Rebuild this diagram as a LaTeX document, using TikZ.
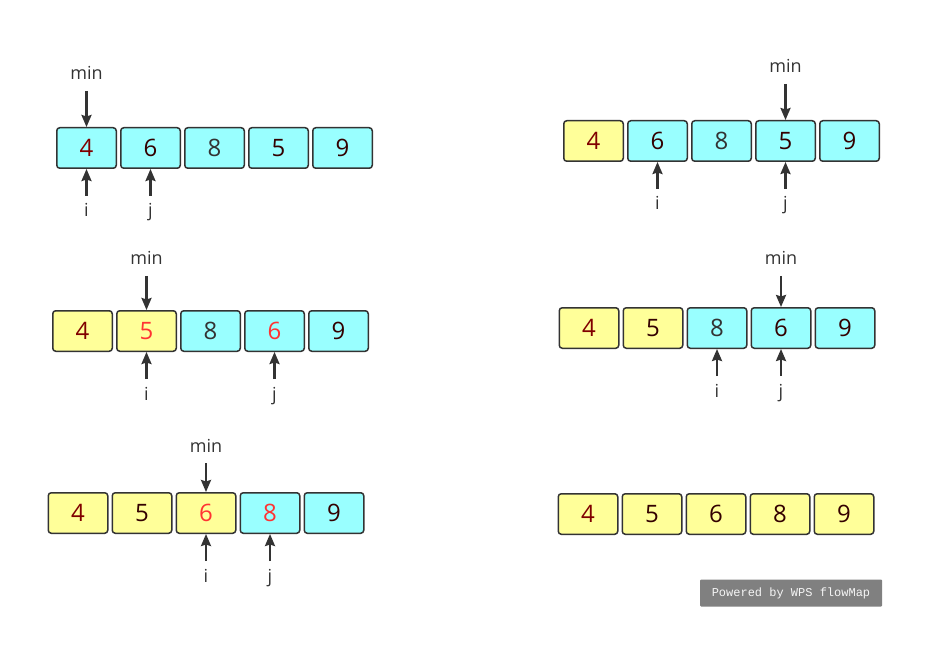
\documentclass[tikz,border=0pt]{standalone}
\usepackage{fontspec}
\setmainfont{Open Sans}
\setmonofont{Liberation Mono}
\usetikzlibrary{positioning,arrows.meta}
\definecolor{cellblue}{HTML}{99FFFF}
\definecolor{cellyellow}{HTML}{FFFF99}
\definecolor{edge}{HTML}{333333}
\definecolor{dred}{HTML}{800000}
\definecolor{dark}{HTML}{330000}
\definecolor{grey}{HTML}{333333}
\definecolor{hot}{HTML}{FF3333}
\definecolor{stamp}{HTML}{808080}
\tikzset{
  cell/.style={draw=edge, line width=1.5pt, rounded corners=3pt, minimum width=59.5pt,
    minimum height=40.5pt, inner sep=0pt, font=\fontsize{24}{24}\selectfont},
  lbl/.style={inner sep=0pt, outer sep=7pt, text height=14pt, text depth=4pt, text=edge,
    font=\fontsize{18}{18}\selectfont},
  ptr/.style={->, draw=edge, line width=2.2pt}
}
% one row of five cells: name, x, y, value/fill/text list
\newcommand{\cellrow}[4]{%
  \foreach \v/\f/\c [count=\k] in {#4}
    \node[cell, fill=\f, text=\c] (#1-\k) at ({#2+64*(\k-1)},#3) {\v};
}
\begin{document}
\begin{tikzpicture}[x=1pt, y=1pt, >={Stealth[length=12pt,width=10pt,inset=1.5pt]}]
    \useasboundingbox (0,0) rectangle (942,-660);
    % left column
    \cellrow{s1}{86.5}{-148}{4/cellblue/dred, 6/cellblue/dark, 8/cellblue/grey, 5/cellblue/dark, 9/cellblue/dark}
    \cellrow{s3}{82.5}{-331}{4/cellyellow/dred, 5/cellyellow/hot, 8/cellblue/grey, 6/cellblue/hot, 9/cellblue/dark}
    \cellrow{s5}{78}{-513}{4/cellyellow/dred, 5/cellyellow/dark, 6/cellyellow/hot, 8/cellblue/hot, 9/cellblue/dark}
    % right column
    \cellrow{s2}{593.5}{-141}{4/cellyellow/dred, 6/cellblue/dark, 8/cellblue/grey, 5/cellblue/dark, 9/cellblue/dark}
    \cellrow{s4}{589}{-328}{4/cellyellow/dred, 5/cellyellow/dark, 8/cellblue/grey, 6/cellblue/dark, 9/cellblue/dark}
    \cellrow{s6}{588}{-514}{4/cellyellow/dred, 5/cellyellow/dark, 6/cellyellow/dark, 8/cellyellow/dark, 9/cellyellow/dark}

    \node[lbl, above=36pt of s1-1] (min1) {min};
    \node[lbl, below=27pt of s1-1] (i1) {i};
    \node[lbl, below=27pt of s1-2] (j1) {j};
    \draw[ptr] (min1) -- (s1-1);
    \draw[ptr] (i1) -- (s1-1);
    \draw[ptr] (j1) -- (s1-2);

    \node[lbl, above=36pt of s2-4] (min2) {min};
    \node[lbl, below=27pt of s2-2] (i2) {i};
    \node[lbl, below=27pt of s2-4] (j2) {j};
    \draw[ptr] (min2) -- (s2-4);
    \draw[ptr] (i2) -- (s2-2);
    \draw[ptr] (j2) -- (s2-4);

    \node[lbl, above=34pt of s3-2] (min3) {min};
    \node[lbl, below=27pt of s3-2] (i3) {i};
    \node[lbl, below=27pt of s3-4] (j3) {j};
    \draw[ptr] (min3) -- (s3-2);
    \draw[ptr] (i3) -- (s3-2);
    \draw[ptr] (j3) -- (s3-4);

    \node[lbl, above=31pt of s4-4] (min4) {min};
    \node[lbl, below=27pt of s4-3] (i4) {i};
    \node[lbl, below=27pt of s4-4] (j4) {j};
    \draw[ptr] (min4) -- (s4-4);
    \draw[ptr] (i4) -- (s4-3);
    \draw[ptr] (j4) -- (s4-4);

    \node[lbl, above=29pt of s5-3] (min5) {min};
    \node[lbl, below=27pt of s5-3] (i5) {i};
    \node[lbl, below=27pt of s5-4] (j5) {j};
    \draw[ptr] (min5) -- (s5-3);
    \draw[ptr] (i5) -- (s5-3);
    \draw[ptr] (j5) -- (s5-4);

    \node[fill=stamp, rounded corners=1pt, minimum width=182pt, minimum height=27pt, inner sep=0pt,
      text=white!92!gray, font=\ttfamily\fontsize{12}{12}\selectfont] (mark) at (791,-593) {Powered by WPS flowMap};
\end{tikzpicture}
\end{document}
